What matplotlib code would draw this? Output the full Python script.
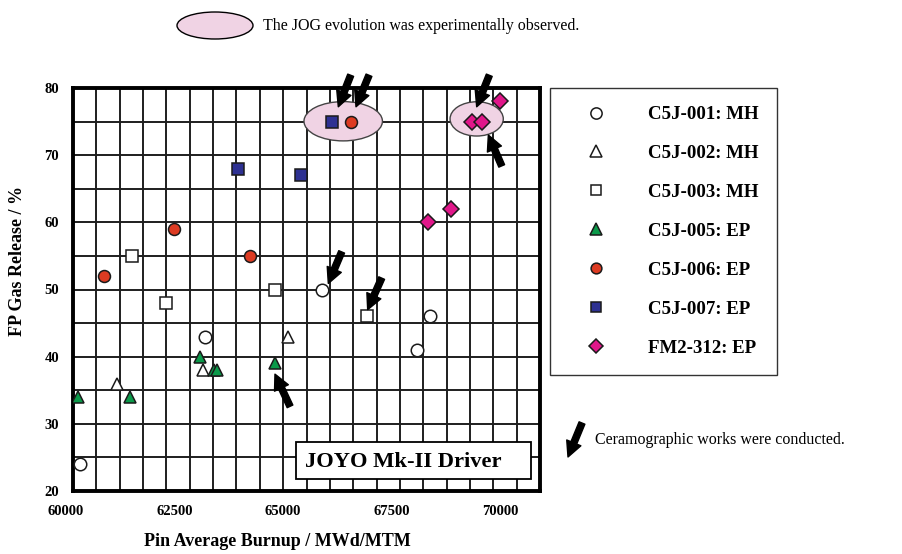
import numpy as np
import matplotlib.pyplot as plt
from matplotlib.patches import Ellipse, Rectangle
from matplotlib.transforms import ScaledTranslation
from matplotlib.font_manager import FontProperties

SERIF = 'Liberation Serif'
plt.rcParams['font.family'] = SERIF

# data
c5j001_x = [60150, 62830, 65340, 67360, 67650]
c5j001_y = [24, 43, 50, 41, 46]
c5j002_x = [60950, 62790, 64610]
c5j002_y = [36, 38, 43]
c5j003_x = [61260, 61990, 64330, 66290]
c5j003_y = [55, 48, 50, 46]
c5j005_x = [60110, 61220, 62730, 63020, 63080, 64330]
c5j005_y = [34, 34, 40, 38, 38, 39]
c5j006_x = [60660, 62160, 63800, 65960]
c5j006_y = [52, 59, 55, 75]
c5j007_x = [63530, 64880, 65550]
c5j007_y = [68, 67, 75]
fm2_x = [67610, 68090, 68540, 68750, 69140]
fm2_y = [60, 62, 75, 75, 78]

labels = ['C5J-001: MH', 'C5J-002: MH', 'C5J-003: MH', 'C5J-005: EP',
          'C5J-006: EP', 'C5J-007: EP', 'FM2-312: EP']

# JOG ellipses (center x, center y, width, height) and ceramography arrows (tail -> tip)
jog_ellipses = [(65786, 75.05, 1680, 5.85), (68644, 75.4, 1140, 5.1)]
arrow_tails = [(65946, 81.9), (66338, 81.9), (68914, 81.9), (69180, 68.4),
               (65753, 55.6), (66610, 51.7), (64647, 32.6)]
arrow_tips = [(65681, 77.2), (66060, 77.2), (68644, 77.2), (68894, 73.0),
              (65467, 50.9), (66310, 47.0), (64325, 37.4)]

W, H = 902, 554
fig = plt.figure(figsize=(W / 100, H / 100), dpi=100)
ax = fig.add_axes([73 / W, 1 - 491 / H, (540 - 73) / W, (491 - 88) / H])

EC = '#1a1a1a'
series = [
    (c5j001_x, c5j001_y, 'o', 'white', 9),
    (c5j002_x, c5j002_y, '^', 'white', 9),
    (c5j003_x, c5j003_y, 's', 'white', 8.3),
    (c5j005_x, c5j005_y, '^', '#0b9a4a', 9),
    (c5j006_x, c5j006_y, 'o', '#dd3b22', 8.6),
    (c5j007_x, c5j007_y, 's', '#2e3192', 8.3),
    (fm2_x, fm2_y, 'D', '#e0178a', 8.3),
]

for (xs, ys, mk, fc, ms), lab in zip(series, labels):
    ax.plot(xs, ys, linestyle='none', marker=mk, ms=ms, mfc=fc, mec=EC,
            mew=1.1, label=lab, zorder=4)

for cx, cy, ew, eh in jog_ellipses:
    ax.add_patch(Ellipse((cx, cy), ew, eh, facecolor='#f0d3e4',
                         edgecolor='#444444', lw=1.0, zorder=3))

arrow_kw = dict(arrowstyle='simple,head_length=1.1,head_width=1.1,tail_width=0.45',
                color='black', mutation_scale=10, shrinkA=0, shrinkB=0)
for tail, tip in zip(arrow_tails, arrow_tips):
    ax.annotate('', xy=tip, xytext=tail, arrowprops=arrow_kw, zorder=6)

ax.set_xlim(60000, 70000)
ax.set_ylim(20, 80)
ax.set_xticks(np.arange(60000, 70001, 2500))
ax.set_xticks(np.arange(60000, 70001, 500), minor=True)
ax.set_yticks(np.arange(20, 81, 10))
ax.set_yticks(np.arange(20, 81, 5), minor=True)
ax.grid(True, which='both', color='#1e1e1e', lw=1.4)
ax.set_axisbelow(True)
ax.tick_params(which='both', length=0, pad=10)
for lab in ax.get_xticklabels() + ax.get_yticklabels():
    lab.set_fontweight('bold')
    lab.set_fontsize(10.5)
# the original's x labels sit a bit left of the gridlines
for i, lab in enumerate(ax.get_xticklabels()):
    dx = -7 - 33 * i / 4
    lab.set_transform(lab.get_transform() + ScaledTranslation(dx / 100, 0, fig.dpi_scale_trans))
for s in ax.spines.values():
    s.set_linewidth(2.8)
    s.set_color('black')

# JOYO box
ax.add_patch(Rectangle((0.4775, 0.03), 0.5035, 0.092, transform=ax.transAxes,
                       facecolor='white', edgecolor='black', lw=1.3, zorder=5))
ax.text(0.497, 0.073, 'JOYO Mk-II Driver', transform=ax.transAxes,
        fontsize=16.2, fontweight='bold', va='center', ha='left', zorder=6)

fig.text(277 / W, 1 - 541 / H, 'Pin Average Burnup / MWd/MTM', ha='center',
         va='center', fontsize=13, fontweight='bold')
fig.text(18 / W, 1 - 261 / H, 'FP Gas Release / %', ha='center', va='center',
         rotation=90, fontsize=13, fontweight='bold')

leg = fig.legend(loc='upper left', bbox_to_anchor=(550 / W, 1 - 88 / H),
                 borderaxespad=0, frameon=True, fancybox=False,
                 edgecolor='black', numpoints=1, handlelength=3.0,
                 handletextpad=1.25, borderpad=0.95, labelspacing=1.15,
                 markerscale=0.9,
                 prop=FontProperties(family=SERIF, weight='bold', size=13.6))
leg.get_frame().set_linewidth(1.0)

# top note
fig.add_artist(Ellipse((215 / W, 1 - 25.5 / H), 76 / W, 27 / H,
                       transform=fig.transFigure, facecolor='#f0d3e4',
                       edgecolor='black', lw=1.0))
fig.text(263 / W, 1 - 26 / H, 'The JOG evolution was experimentally observed.',
         ha='left', va='center', fontsize=11.5)

# arrow key
ax.annotate('', xy=(568 / W, 1 - 457 / H), xytext=(582 / W, 1 - 423 / H),
            xycoords='figure fraction', textcoords='figure fraction',
            arrowprops=arrow_kw)
fig.text(595 / W, 1 - 440 / H, 'Ceramographic works were conducted.',
         ha='left', va='center', fontsize=11.5)

fig.savefig('out.png', dpi=100)
